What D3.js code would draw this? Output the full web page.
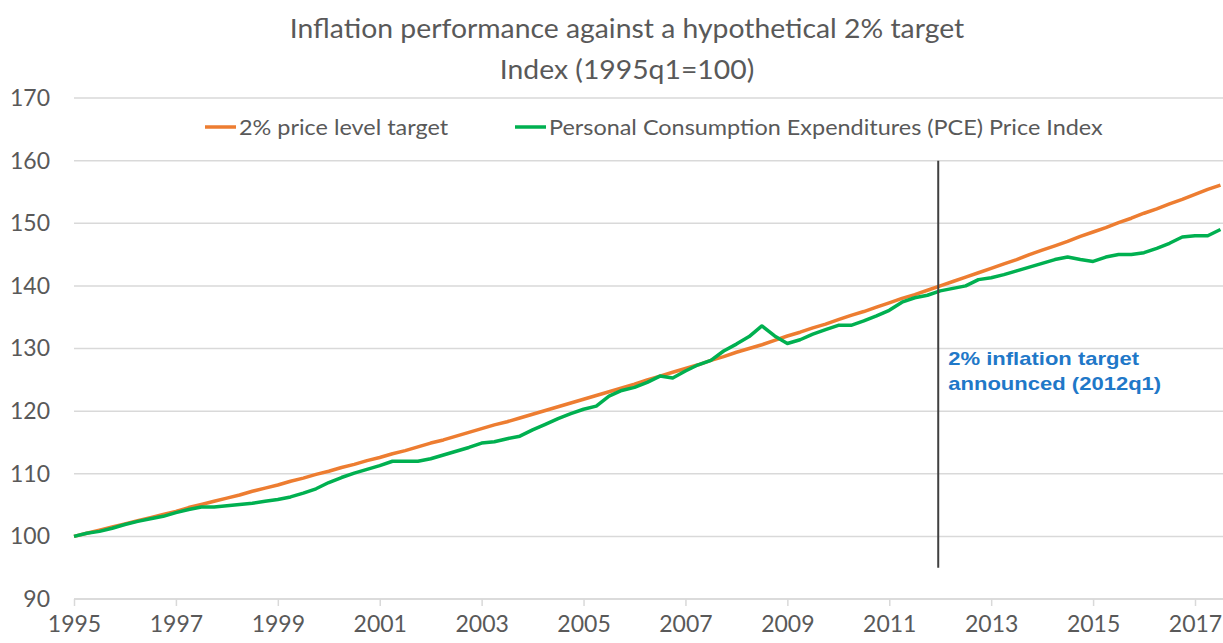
<!DOCTYPE html>
<html>
<head>
<meta charset="utf-8">
<script src="https://cdn.jsdelivr.net/npm/d3@7"></script>
<style>
    html, body { margin: 0; padding: 0; background: #fff; }
    svg { display: block; }
</style>
</head>
<body>
<div id="chart"></div>
<script>
"use strict";

// quarterly index, 1995q1 .. 2017q3 (1995q1 = 100)
const START_YEAR = 1995;
const TARGET_2PCT = [
    100.0, 100.5, 101.0, 101.5,
    102.0, 102.5, 103.0, 103.5,
    104.0, 104.6, 105.1, 105.6,
    106.1, 106.6, 107.2, 107.7,
    108.2, 108.8, 109.3, 109.9,
    110.4, 111.0, 111.5, 112.1,
    112.6, 113.2, 113.7, 114.3,
    114.9, 115.4, 116.0, 116.6,
    117.2, 117.8, 118.3, 118.9,
    119.5, 120.1, 120.7, 121.3,
    121.9, 122.5, 123.1, 123.7,
    124.3, 125.0, 125.6, 126.2,
    126.8, 127.4, 128.1, 128.7,
    129.4, 130.0, 130.6, 131.3,
    132.0, 132.6, 133.3, 133.9,
    134.6, 135.3, 135.9, 136.6,
    137.3, 138.0, 138.6, 139.3,
    140.0, 140.7, 141.4, 142.1,
    142.8, 143.5, 144.2, 145.0,
    145.7, 146.4, 147.1, 147.9,
    148.6, 149.3, 150.1, 150.8,
    151.6, 152.3, 153.1, 153.8,
    154.6, 155.4, 156.1
];
const PCE_INDEX = [
    100.0, 100.5, 100.8, 101.3,
    101.9, 102.4, 102.8, 103.2,
    103.8, 104.3, 104.7, 104.7,
    104.9, 105.1, 105.3, 105.6,
    105.9, 106.3, 106.9, 107.6,
    108.6, 109.4, 110.1, 110.7,
    111.3, 112.0, 112.0, 112.0,
    112.4, 113.0, 113.6, 114.2,
    114.9, 115.1, 115.6, 116.0,
    117.0, 117.9, 118.8, 119.6,
    120.3, 120.8, 122.4, 123.3,
    123.8, 124.6, 125.6, 125.3,
    126.4, 127.4, 128.1, 129.6,
    130.7, 131.9, 133.6, 132.0,
    130.8, 131.4, 132.3, 133.0,
    133.7, 133.7, 134.4, 135.2,
    136.1, 137.4, 138.1, 138.5,
    139.2, 139.6, 140.0, 141.0,
    141.3, 141.8, 142.4, 143.0,
    143.6, 144.2, 144.6, 144.2,
    143.9, 144.6, 145.0, 145.0,
    145.3, 146.0, 146.8, 147.8,
    148.0, 148.0, 149.0
];
const SERIES_NAMES = ["2% price level target", "Personal Consumption Expenditures (PCE) Price Index"];
const X_TICKS = [1995, 1997, 1999, 2001, 2003, 2005, 2007, 2009, 2011, 2013, 2015, 2017];
const Y_TICKS = [90, 100, 110, 120, 130, 140, 150, 160, 170];
const TARGET_YEAR = 2012;
const TARGET_LINE_SPAN = [95, 160];
const NOTE_LINES = ["2% inflation target", "announced (2012q1)"];
const TITLE = "Inflation performance against a hypothetical 2% target";
const SUBTITLE = "Index (1995q1=100)";

const WIDTH = 1223;
const HEIGHT = 643;
const PLOT_LEFT = 74;
const PLOT_RIGHT = 1223;
const PLOT_TOP = 98;
const PLOT_BOTTOM = 599;
const TEXT_COLOR = "#595959";
const GRID_COLOR = "#d9d9d9";
const ORANGE = "#ed7d31";
const GREEN = "#00b050";
const NOTE_COLOR = "#1f78c8";
const LINE_WIDTH = 3.5;
const FONT = "Lato, 'Open Sans', sans-serif";
// the source picture is a little wider than tall, so text gets a horizontal stretch
const STRETCH = 1.09;

const svg = d3.select("#chart").append("svg")
    .attr("width", WIDTH)
    .attr("height", HEIGHT);

const x = d3.scaleLinear()
    .domain([START_YEAR, START_YEAR + 22])
    .range([PLOT_LEFT, 1195]);
const y = d3.scaleLinear()
    .domain([90, 170])
    .range([PLOT_BOTTOM, PLOT_TOP]);

function toPoints(values) {
    return values.map(function (v, i) {
        return {year: START_YEAR + i / 4, value: v};
    });
}

function stretchedText(cx, cy, size, anchor, label) {
    return svg.append("text")
        .attr("transform", "translate(" + cx + "," + cy + ") scale(" + STRETCH + ",1)")
        .attr("text-anchor", anchor)
        .style("font-family", FONT)
        .style("font-size", size + "px")
        .style("fill", TEXT_COLOR)
        .text(label);
}

// title
stretchedText(627, 38, 26, "middle", TITLE);
stretchedText(627, 79, 26, "middle", SUBTITLE);

// horizontal gridlines
svg.append("g")
    .selectAll("line")
    .data(Y_TICKS)
    .enter()
    .append("line")
    .attr("x1", PLOT_LEFT)
    .attr("x2", PLOT_RIGHT)
    .attr("y1", function (d) { return y(d); })
    .attr("y2", function (d) { return y(d); })
    .style("stroke", GRID_COLOR)
    .style("stroke-width", 1.5);

// y axis labels
const yAxis = svg.append("g")
    .attr("transform", "translate(" + 50 + ",0)")
    .call(d3.axisLeft(y).tickValues(Y_TICKS).tickSize(0).tickPadding(0));
yAxis.select(".domain").remove();
yAxis.selectAll("text")
    .style("font-family", FONT)
    .style("font-size", "23px")
    .style("fill", TEXT_COLOR);

// x axis
const xAxis = svg.append("g")
    .attr("transform", "translate(0," + PLOT_BOTTOM + ")")
    .call(d3.axisBottom(x).tickValues(X_TICKS).tickFormat(d3.format("d")).tickSize(7).tickSizeOuter(0).tickPadding(10));
xAxis.select(".domain")
    .attr("d", "M" + PLOT_LEFT + ",0H" + PLOT_RIGHT)
    .style("stroke", GRID_COLOR)
    .style("stroke-width", 1.5);
xAxis.selectAll(".tick line")
    .style("stroke", GRID_COLOR)
    .style("stroke-width", 1.5);
xAxis.selectAll("text")
    .style("font-family", FONT)
    .style("font-size", "23px")
    .style("fill", TEXT_COLOR);

// series
const line = d3.line()
    .x(function (d) { return x(d.year); })
    .y(function (d) { return y(d.value); });

const series = [
    {name: SERIES_NAMES[0], color: ORANGE, values: TARGET_2PCT},
    {name: SERIES_NAMES[1], color: GREEN, values: PCE_INDEX}
];

svg.append("g")
    .selectAll("path")
    .data(series)
    .enter()
    .append("path")
    .attr("d", function (d) { return line(toPoints(d.values)); })
    .style("fill", "none")
    .style("stroke", function (d) { return d.color; })
    .style("stroke-width", LINE_WIDTH)
    .style("stroke-linejoin", "round");

// announcement marker
svg.append("line")
    .attr("x1", x(TARGET_YEAR) - 2)
    .attr("x2", x(TARGET_YEAR) - 2)
    .attr("y1", y(TARGET_LINE_SPAN[1]))
    .attr("y2", y(TARGET_LINE_SPAN[0]))
    .style("stroke", "#404040")
    .style("stroke-width", 2);

svg.append("text")
    .attr("transform", "translate(" + (x(TARGET_YEAR) + 8) + ",365) scale(1.16,1)")
    .style("font-family", "'Liberation Sans', Arial, sans-serif")
    .style("font-weight", "bold")
    .style("font-size", "19px")
    .style("fill", NOTE_COLOR)
    .selectAll("tspan")
    .data(NOTE_LINES)
    .enter()
    .append("tspan")
    .attr("x", 0)
    .attr("y", function (d, i) { return i * 25; })
    .text(function (d) { return d; });

// legend
const legendX = [205, 515];
const legend = svg.append("g")
    .selectAll("g")
    .data(series)
    .enter()
    .append("g")
    .attr("transform", function (d, i) { return "translate(" + legendX[i] + ",127)"; });

legend.append("line")
    .attr("x1", 0)
    .attr("x2", 31)
    .style("stroke", function (d) { return d.color; })
    .style("stroke-width", LINE_WIDTH);

legend.append("text")
    .attr("transform", "translate(34,0) scale(" + STRETCH + ",1)")
    .attr("dy", "0.35em")
    .style("font-family", FONT)
    .style("font-size", "21.5px")
    .style("fill", TEXT_COLOR)
    .text(function (d) { return d.name; });
</script>
</body>
</html>
